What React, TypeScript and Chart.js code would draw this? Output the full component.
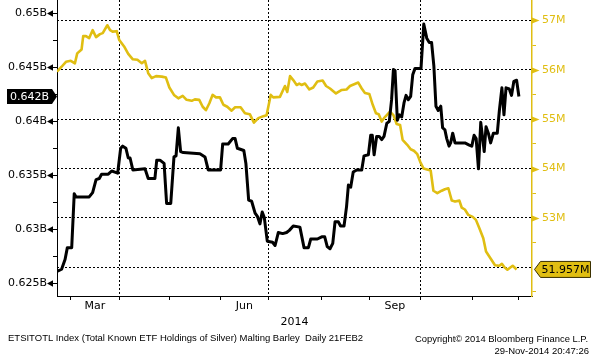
import React, { useEffect, useRef } from 'react';
import { Chart, registerables } from 'chart.js';

Chart.register(...registerables);

// x = trading-day index counted from 21 Feb 2014
const holdingsX = [0, 2, 3.5, 4.5, 6.4, 7.5, 8.3, 14, 15.5, 17, 18.4, 19.4, 22.3, 23.8, 25.2, 26.4, 27.7, 28.6, 30, 31, 31.8, 33, 38.3, 39.7, 42.6, 43.4, 44.8, 46.6, 47.7, 49.5, 50.9, 51.8, 52.8, 53.8, 55, 62.2, 64.4, 65.8, 71.2, 72.1, 74.5, 76.4, 77.5, 78.5, 81.3, 82.2, 83.4, 84.7, 86.2, 87.2, 88.3, 89.3, 90.2, 91.5, 93.8, 94.9, 96.3, 98.2, 99.9, 101.1, 102.8, 105.7, 107.5, 109.4, 110.4, 113.3, 115.2, 116.5, 117.6, 118.8, 120, 121, 122.4, 123.4, 124.9, 126, 126.8, 127.8, 128.9, 130.4, 132.6, 133.6, 135.5, 136.5, 137.2, 138, 139.1, 140.2, 141.3, 142.3, 143.5, 144.6, 145.6, 146.4, 147.1, 148.1, 149, 150, 151, 151.9, 152.9, 153.9, 154.8, 155.8, 158.4, 159.6, 160.9, 162, 163, 164, 164.9, 165.9, 167, 167.8, 168.8, 169.6, 170.6, 171.3, 172.2, 173.2, 177.5, 179.4, 180.5, 181.5, 182.4, 183.4, 184.4, 185.3, 185.9, 186.7, 187.7, 188.7, 189.9, 191.6, 192.5, 193.6, 194.5, 195.4, 196.8, 197.8, 198.8, 200, 201];
const holdingsB = [0.6261, 0.6263, 0.6272, 0.6283, 0.6283, 0.6333, 0.633, 0.633, 0.6334, 0.6346, 0.6347, 0.6351, 0.6351, 0.6354, 0.6353, 0.6352, 0.6375, 0.6377, 0.6375, 0.6366, 0.6366, 0.6355, 0.6356, 0.6347, 0.6347, 0.6364, 0.6364, 0.6361, 0.6324, 0.6324, 0.6367, 0.6368, 0.6394, 0.6372, 0.6371, 0.637, 0.6367, 0.6355, 0.6355, 0.6379, 0.6379, 0.6384, 0.6384, 0.6375, 0.6373, 0.6361, 0.6327, 0.6326, 0.6315, 0.6312, 0.6305, 0.6316, 0.6311, 0.6289, 0.6288, 0.6285, 0.6297, 0.6296, 0.6297, 0.6299, 0.6303, 0.6302, 0.6283, 0.6283, 0.6291, 0.6291, 0.6293, 0.6293, 0.6284, 0.6282, 0.6287, 0.6307, 0.6307, 0.6303, 0.6303, 0.6321, 0.6341, 0.6339, 0.6353, 0.6355, 0.6355, 0.6368, 0.6369, 0.6387, 0.6387, 0.6369, 0.6386, 0.6386, 0.6383, 0.6386, 0.6398, 0.64, 0.642, 0.6448, 0.6447, 0.6401, 0.6406, 0.6404, 0.6417, 0.6424, 0.642, 0.6423, 0.6443, 0.6449, 0.6449, 0.649, 0.6477, 0.6473, 0.6473, 0.6451, 0.6414, 0.641, 0.6414, 0.6394, 0.6392, 0.6384, 0.6377, 0.638, 0.6389, 0.638, 0.638, 0.6378, 0.6377, 0.6387, 0.6384, 0.6356, 0.6399, 0.6383, 0.6372, 0.6395, 0.6389, 0.638, 0.6389, 0.6389, 0.641, 0.6431, 0.6406, 0.6431, 0.643, 0.6424, 0.6437, 0.6438, 0.6423];

const barleyX = [0, 2, 3.9, 6, 7.8, 8.8, 10.7, 11.4, 12.6, 14, 15.5, 17, 18.7, 19.9, 21.9, 23.1, 24.2, 26, 27.1, 29.2, 31, 33, 35, 36.9, 38.3, 39.7, 41.2, 43.1, 45.6, 47.4, 48.9, 50.9, 52.8, 54.7, 56.4, 58.6, 60, 61.9, 63.4, 64.8, 66.3, 67.7, 69.2, 70.9, 72.4, 74.1, 76, 77.5, 79.9, 81.8, 83.9, 85.7, 87.6, 89.8, 91.2, 93, 94.1, 97, 99.2, 100.2, 101.4, 102.8, 104.3, 105.4, 106.4, 107.9, 109.8, 111.5, 113.3, 115.6, 117.1, 118.8, 121.4, 123.9, 126, 127.5, 131.1, 132.6, 134, 135.9, 137.4, 138.8, 140, 141.3, 142.3, 143.5, 144.9, 146.4, 147.8, 149.3, 150.4, 152.4, 153.9, 155.3, 156.8, 158.1, 159.5, 162.6, 163.8, 165.5, 167.4, 168.8, 170.3, 171.8, 173.2, 175.1, 176.1, 177.5, 179, 180.9, 182.3, 183.8, 185.5, 186.7, 188.4, 190.6, 192.5, 193.6, 194.7, 196, 197.4, 198.3, 200];
const barleyM = [55.96, 56.06, 56.16, 56.18, 56.13, 56.33, 56.41, 56.68, 56.68, 56.64, 56.8, 56.66, 56.72, 56.74, 56.9, 56.8, 56.77, 56.78, 56.6, 56.47, 56.32, 56.21, 56.2, 56.13, 56.18, 55.93, 55.83, 55.87, 55.86, 55.84, 55.64, 55.49, 55.42, 55.47, 55.39, 55.37, 55.4, 55.39, 55.25, 55.18, 55.32, 55.49, 55.44, 55.44, 55.29, 55.25, 55.17, 55.24, 55.24, 55.12, 55.1, 54.93, 55.02, 55.06, 55.08, 55.49, 55.44, 55.45, 55.67, 55.55, 55.87, 55.79, 55.69, 55.72, 55.69, 55.72, 55.6, 55.64, 55.76, 55.78, 55.67, 55.62, 55.52, 55.59, 55.6, 55.67, 55.74, 55.62, 55.53, 55.51, 55.29, 55.12, 55.1, 54.95, 55.02, 55.08, 55.15, 55.08, 54.9, 54.88, 54.58, 54.48, 54.39, 54.36, 54.29, 54.13, 54.0, 53.96, 53.55, 53.5, 53.55, 53.58, 53.6, 53.35, 53.33, 53.35, 53.21, 53.17, 53.06, 53.02, 52.96, 52.79, 52.59, 52.32, 52.2, 52.04, 52.03, 52.07, 52.0, 51.95, 52.0, 52.03, 51.957];

const leftMajorValues = [0.625, 0.63, 0.635, 0.64, 0.645, 0.65];
const leftMajorLabels = ['0.625B', '0.63B', '0.635B', '0.64B', '0.645B', '0.65B'];
const leftMinorValues = [0.6275, 0.6325, 0.6375, 0.6425, 0.6475];
const rightMajorValues = [52, 53, 54, 55, 56, 57];
const rightMajorLabels = ['', '53M', '54M', '55M', '56M', '57M'];
const rightMinorValues = [51.5, 52.5, 53.5, 54.5, 55.5, 56.5];
const monthStartIdx = [6, 27, 49, 71, 92, 115, 136, 158, 181, 201];
const quarterIdx = [27, 92, 158];
const monthLabelIdx = [16.5, 81.5, 147];
const monthLabels = ['Mar', 'Jun', 'Sep'];
const yearLabel = '2014';
const footerLeft = 'ETSITOTL Index (Total Known ETF Holdings of Silver) Malting Barley  Daily 21FEB2';
const footerRight1 = 'Copyright\u00A9 2014 Bloomberg Finance L.P.';
const footerRight2 = '29-Nov-2014 20:47:26';

const GOLD = '#E0BE12';
const FONT = '"DejaVu Sans", Verdana, sans-serif';
const near = (a: number, b: number) => Math.abs(a - b) < 1e-6;
const has = (arr: number[], v: number) => arr.some((a) => near(a, v));

const decorPlugin = {
  id: 'decor',
  afterDraw(chart: any) {
    const ctx = chart.ctx;
    const yl = chart.scales.yL;
    const yr = chart.scales.yR;
    ctx.save();
    // left major tick triangles
    ctx.fillStyle = '#000';
    ctx.strokeStyle = '#000';
    ctx.lineWidth = 1;
    leftMajorValues.forEach((v) => {
      const y = Math.round(yl.getPixelForValue(v)) + 0.5;
      const r = yl.right;
      ctx.beginPath();
      ctx.moveTo(r - 10, y);
      ctx.lineTo(r - 4, y - 3.2);
      ctx.lineTo(r - 4, y + 3.2);
      ctx.closePath();
      ctx.fill();
      ctx.beginPath();
      ctx.moveTo(r - 4, y);
      ctx.lineTo(r, y);
      ctx.stroke();
    });
    // right major tick triangles
    ctx.fillStyle = GOLD;
    rightMajorValues.forEach((v, i) => {
      if (!rightMajorLabels[i]) return;
      const y = Math.round(yr.getPixelForValue(v)) + 0.5;
      const l = yr.left;
      ctx.beginPath();
      ctx.moveTo(l, y - 3);
      ctx.lineTo(l + 7.5, y);
      ctx.lineTo(l, y + 3);
      ctx.closePath();
      ctx.fill();
    });
    // last value boxes
    const lastB = holdingsB[holdingsB.length - 1];
    const yb = yl.getPixelForValue(lastB);
    ctx.fillStyle = '#000';
    ctx.beginPath();
    ctx.moveTo(7, yb - 7.5);
    ctx.lineTo(52, yb - 7.5);
    ctx.lineTo(57, yb);
    ctx.lineTo(52, yb + 7.5);
    ctx.lineTo(7, yb + 7.5);
    ctx.closePath();
    ctx.fill();
    ctx.font = '11px ' + FONT;
    ctx.fillStyle = '#fff';
    ctx.textAlign = 'left';
    ctx.textBaseline = 'middle';
    ctx.fillText(lastB.toFixed(3) + 'B', 10, yb + 0.5);

    const lastM = barleyM[barleyM.length - 1];
    const ym = yr.getPixelForValue(lastM);
    ctx.fillStyle = GOLD;
    ctx.strokeStyle = '#3a3000';
    ctx.beginPath();
    ctx.moveTo(534.5, ym);
    ctx.lineTo(540.5, ym - 8);
    ctx.lineTo(590.5, ym - 8);
    ctx.lineTo(590.5, ym + 8);
    ctx.lineTo(540.5, ym + 8);
    ctx.closePath();
    ctx.fill();
    ctx.stroke();
    ctx.fillStyle = '#000';
    ctx.fillText(lastM.toFixed(3) + 'M', 541.5, ym + 0.5);

    // footer
    ctx.font = '9.5px "Liberation Sans", Arial, sans-serif';
    ctx.fillStyle = '#000';
    ctx.textAlign = 'left';
    ctx.fillText(footerLeft, 8, 338, 360);
    ctx.textAlign = 'right';
    ctx.fillText(footerRight1, 588, 339, 173);
    ctx.fillText(footerRight2, 589, 351, 97);
    ctx.restore();
  },
};

export default function App() {
  const ref = useRef<HTMLCanvasElement>(null);
  useEffect(() => {
    document.body.style.margin = '0';
    Chart.defaults.font.family = FONT;
    const chart = new Chart(ref.current as HTMLCanvasElement, {
      type: 'line',
      data: {
        datasets: [
          {
            label: 'ETSITOTL',
            data: holdingsX.map((x, i) => ({ x, y: holdingsB[i] })),
            yAxisID: 'yL',
            borderColor: '#000',
            borderWidth: 3,
            pointRadius: 0,
            tension: 0,
            borderJoinStyle: 'round',
          },
          {
            label: 'Malting Barley',
            data: barleyX.map((x, i) => ({ x, y: barleyM[i] })),
            yAxisID: 'yR',
            borderColor: GOLD,
            borderWidth: 2.6,
            pointRadius: 0,
            tension: 0,
            borderJoinStyle: 'round',
          },
        ],
      },
      options: {
        animation: false,
        responsive: false,
        events: [],
        layout: { padding: 0 },
        plugins: { legend: { display: false }, tooltip: { enabled: false } },
        scales: {
          x: {
            type: 'linear',
            position: 'bottom',
            min: 0,
            max: 206.7,
            afterBuildTicks: (s: any) => {
              s.ticks = [...monthStartIdx, ...monthLabelIdx].sort((a, b) => a - b).map((v) => ({ value: v }));
            },
            afterFit: (s: any) => {
              s.height = 65;
              s.paddingLeft = 0;
              s.paddingRight = 0;
            },
            ticks: {
              autoSkip: false,
              maxRotation: 0,
              padding: 0,
              color: '#000',
              font: { size: 11 },
              callback: (_v: any, i: number, ticks: any[]) => {
                const v = ticks[i].value;
                const k = monthLabelIdx.findIndex((m) => near(m, v));
                return k >= 0 ? monthLabels[k] : '';
              },
            },
            grid: {
              drawOnChartArea: true,
              drawTicks: true,
              tickLength: 4,
              color: (c: any) => (c.tick && has(quarterIdx, c.tick.value) ? '#000' : 'rgba(0,0,0,0)'),
              tickColor: (c: any) => (c.tick && has(monthStartIdx, c.tick.value) ? '#000' : 'rgba(0,0,0,0)'),
              lineWidth: 1,
            },
            border: { display: true, color: '#000', width: 1, dash: [2, 2] },
            title: {
              display: true,
              text: yearLabel,
              color: '#000',
              font: { size: 11, lineHeight: 1.2 },
              padding: { top: 0, bottom: 32.4 },
            },
          },
          yL: {
            type: 'linear',
            position: 'left',
            min: 0.623824,
            max: 0.651231,
            afterBuildTicks: (s: any) => {
              s.ticks = [...leftMajorValues, ...leftMinorValues].sort((a, b) => a - b).map((v) => ({ value: v }));
            },
            afterFit: (s: any) => {
              s.width = 57;
              s.paddingTop = 0;
              s.paddingBottom = 0;
            },
            ticks: {
              autoSkip: false,
              padding: 6,
              color: '#000',
              font: { size: 11 },
              callback: (_v: any, i: number, ticks: any[]) => {
                const v = ticks[i].value;
                const k = leftMajorValues.findIndex((m) => near(m, v));
                return k >= 0 ? leftMajorLabels[k] : '';
              },
            },
            grid: {
              drawOnChartArea: false,
              drawTicks: true,
              tickLength: 4,
              tickColor: (c: any) => (c.tick && has(leftMinorValues, c.tick.value) ? '#000' : 'rgba(0,0,0,0)'),
            },
            border: { display: true, color: '#000', width: 1 },
          },
          yR: {
            type: 'linear',
            position: 'right',
            min: 51.419,
            max: 57.411,
            afterBuildTicks: (s: any) => {
              s.ticks = [...rightMajorValues, ...rightMinorValues].sort((a, b) => a - b).map((v) => ({ value: v }));
            },
            afterFit: (s: any) => {
              s.width = 60;
              s.paddingTop = 0;
              s.paddingBottom = 0;
            },
            ticks: {
              autoSkip: false,
              padding: 6,
              color: GOLD,
              font: { size: 11 },
              callback: (_v: any, i: number, ticks: any[]) => {
                const v = ticks[i].value;
                const k = rightMajorValues.findIndex((m) => near(m, v));
                return k >= 0 ? rightMajorLabels[k] : '';
              },
            },
            grid: {
              drawOnChartArea: true,
              drawTicks: true,
              tickLength: 4,
              lineWidth: 1,
              color: (c: any) => (c.tick && has(rightMajorValues, c.tick.value) ? '#000' : 'rgba(0,0,0,0)'),
              tickColor: (c: any) => (c.tick && has(rightMinorValues, c.tick.value) ? GOLD : 'rgba(0,0,0,0)'),
            },
            border: { display: true, color: GOLD, width: 1.5, dash: [2, 2] },
          },
        },
      },
      plugins: [decorPlugin],
    } as any);
    return () => chart.destroy();
  }, []);
  return (
    <div style={{ width: 592, height: 361, background: '#fff' }}>
      <canvas ref={ref} width={592} height={361} style={{ display: 'block', width: 592, height: 361 }} />
    </div>
  );
}
